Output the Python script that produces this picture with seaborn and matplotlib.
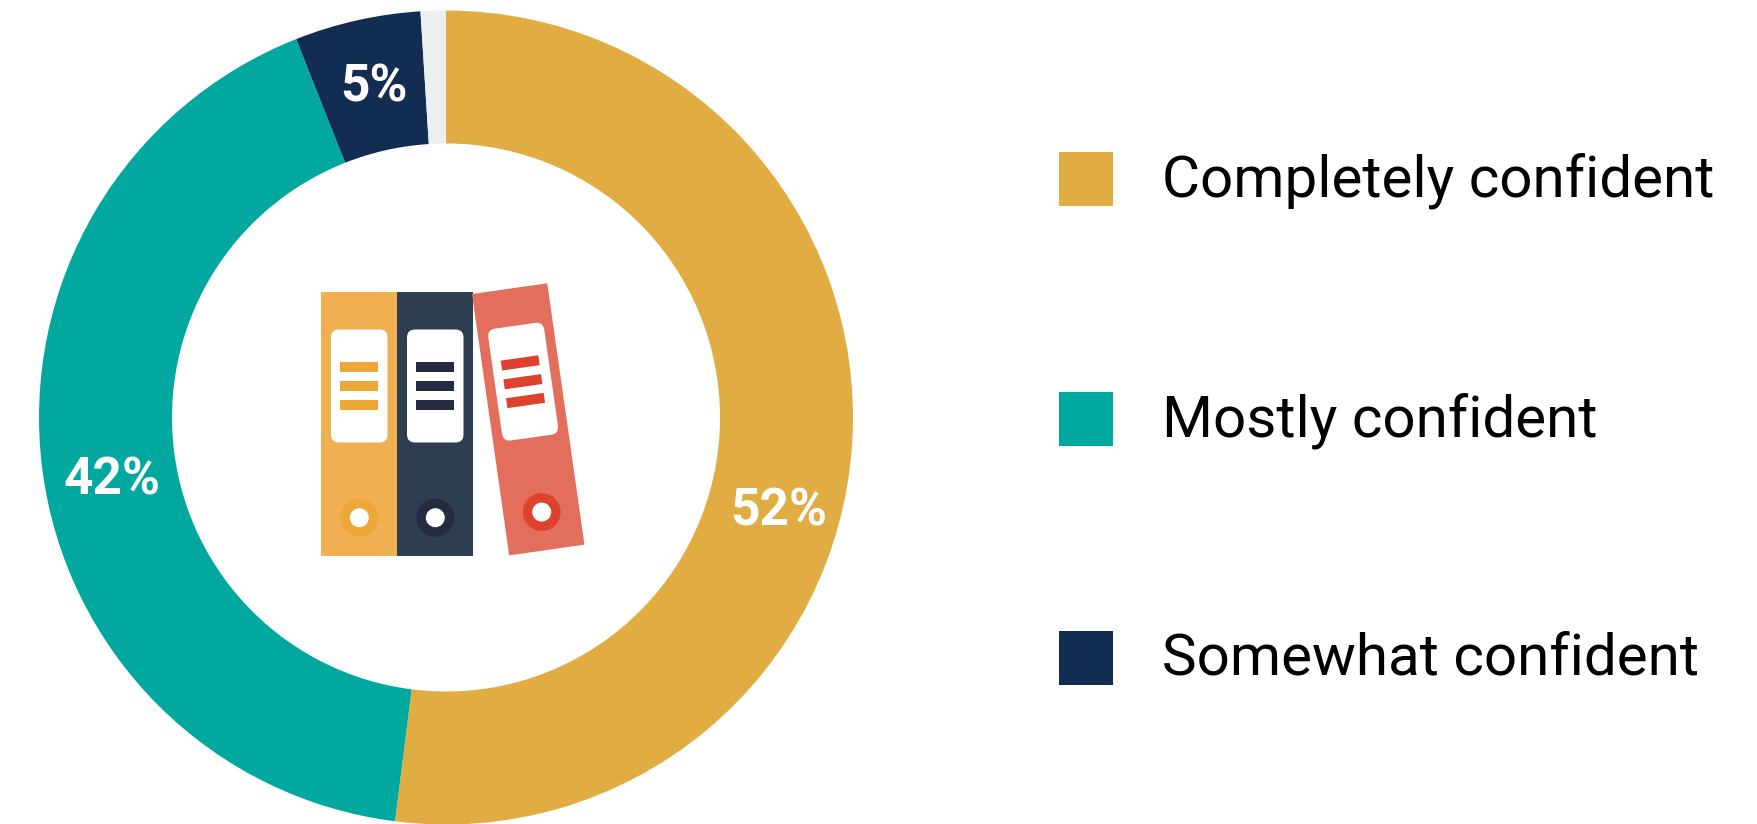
import matplotlib
matplotlib.use("Agg")
import matplotlib.pyplot as plt
from matplotlib.patches import Rectangle, FancyBboxPatch, Circle
from matplotlib.transforms import Affine2D
import seaborn as sns

# Survey answers, clockwise from twelve o'clock
categories = ["Completely confident", "Mostly confident", "Somewhat confident", "Other"]
shares = [52, 42, 5, 1]
slice_colors = ["#E1AD42", "#00A8A0", "#132C52", "#ECF0F1"]
legend_entries = categories[:3]

W, H = 1758, 824
sns.set_theme(style="white")
plt.rcParams["font.family"] = ["Roboto", "DejaVu Sans"]
palette = sns.color_palette(slice_colors)

fig = plt.figure(figsize=(W / 100, H / 100), dpi=100, facecolor="white")

# Donut
pie_ax = fig.add_axes([0, 0, 1, 1])
OUTER, INNER = 407, 274
pie_ax.pie(
    shares, colors=palette, startangle=90, counterclock=False,
    center=(446, H - 417.5), radius=OUTER,
    wedgeprops=dict(width=OUTER - INNER, linewidth=0),
)
pie_ax.set_xlim(0, W)
pie_ax.set_ylim(0, H)
pie_ax.set_aspect("equal")
pie_ax.axis("off")

# Overlay in pixel units with y running downwards
ax = fig.add_axes([0, 0, 1, 1])
ax.set_xlim(0, W)
ax.set_ylim(H, 0)
ax.axis("off")
ax.patch.set_alpha(0)


def draw_binder(x0, y0, angle, body, mark):
    """One folder spine with its label plate, three text bars and finger hole."""
    tr = Affine2D().rotate_deg(angle).translate(x0, y0) + ax.transData
    ax.add_patch(Rectangle((0, 0), 76, 264, fc=body, ec="none", transform=tr))
    ax.add_patch(FancyBboxPatch((10, 37.5), 56.5, 113, fc="white", ec="none", transform=tr,
                                boxstyle="round,pad=0,rounding_size=8"))
    for bar_y in (70, 89, 108):
        ax.add_patch(Rectangle((19, bar_y), 38, 10, fc=mark, ec="none", transform=tr))
    ax.add_patch(Circle((38.3, 225.7), 18.9, fc=mark, ec="none", transform=tr))
    ax.add_patch(Circle((38.3, 225.7), 9.5, fc="white", ec="none", transform=tr))


draw_binder(321, 292, 0, "#F0AF51", "#ECA737")
draw_binder(397, 292, 0, "#2C3E50", "#242A40")
draw_binder(472, 294, -8.1, "#E46E5C", "#DE412E")

# Percentage labels on the ring
label_positions = [(779, 512), (112, 480), (374.5, 87)]
for value, (lx, ly) in zip(shares, label_positions):
    ax.text(lx, ly, f"{value}%", color="white", fontsize=37, fontweight="bold",
            ha="center", va="center")

# Legend
legend_tops = [152, 392, 631]
for name, color, top in zip(legend_entries, palette, legend_tops):
    ax.add_patch(Rectangle((1059.5, top), 54, 54, fc=color, ec="none"))
    ax.text(1162, top + 22, name, color="black", fontsize=42, ha="left", va="center_baseline")

fig.savefig("out.png", dpi=100, facecolor="white")
